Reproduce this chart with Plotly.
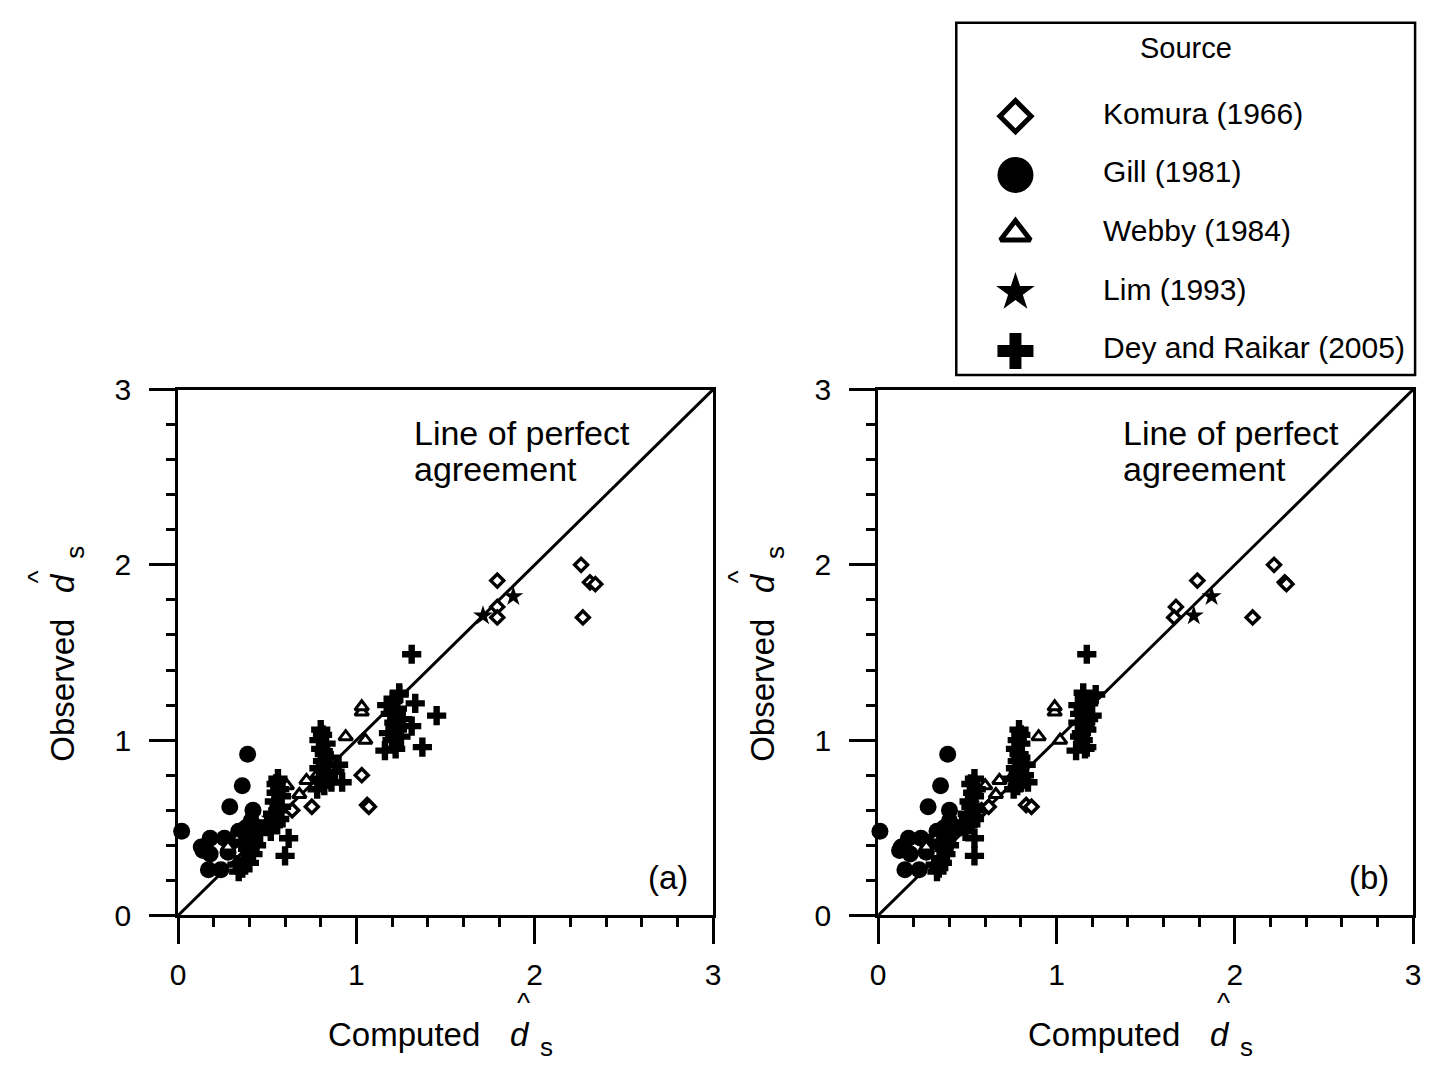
import plotly.graph_objects as go

# ---------------- data (observed, computed for panel a, computed for panel b) ----------------
komura_observed   = [2.00, 1.90, 1.89, 1.70, 1.91, 1.76, 1.70, 0.80, 0.63, 0.62, 0.60, 0.62]
komura_computed_a = [2.26, 2.31, 2.34, 2.27, 1.79, 1.79, 1.79, 1.03, 1.06, 1.07, 0.64, 0.75]
komura_computed_b = [2.22, 2.28, 2.29, 2.10, 1.79, 1.67, 1.66, 0.78, 0.83, 0.86, 0.58, 0.62]

gill_observed   = [0.48, 0.39, 0.37, 0.44, 0.35, 0.26, 0.26, 0.44, 0.62, 0.60, 0.74, 0.92, 0.54, 0.42, 0.48, 0.50, 0.36, 0.45]
gill_computed_a = [0.02, 0.13, 0.14, 0.18, 0.18, 0.17, 0.24, 0.26, 0.29, 0.42, 0.36, 0.39, 0.41, 0.30, 0.34, 0.38, 0.28, 0.40]
gill_computed_b = [0.01, 0.13, 0.12, 0.17, 0.18, 0.15, 0.23, 0.24, 0.28, 0.40, 0.35, 0.39, 0.40, 0.30, 0.33, 0.37, 0.27, 0.38]

webby_observed   = [0.39, 0.43, 0.50, 0.62, 0.74, 0.69, 0.77, 0.80, 1.02, 1.00, 1.16, 1.19]
webby_computed_a = [0.28, 0.33, 0.45, 0.55, 0.61, 0.68, 0.72, 0.78, 0.94, 1.05, 1.03, 1.03]
webby_computed_b = [0.27, 0.32, 0.44, 0.54, 0.60, 0.66, 0.68, 0.76, 0.90, 1.02, 0.99, 0.99]

lim_observed   = [1.82, 1.71, 0.45, 0.55, 0.80]
lim_computed_a = [1.88, 1.71, 0.42, 0.52, 0.82]
lim_computed_b = [1.87, 1.77, 0.40, 0.50, 0.80]

dey_observed = [0.25, 0.27, 0.29, 0.30, 0.32, 0.34, 0.35, 0.38, 0.40, 0.42, 0.44, 0.45, 0.47, 0.50,
                0.52, 0.55, 0.58, 0.60, 0.62, 0.65, 0.68, 0.70, 0.72, 0.75, 0.78, 0.53, 0.48,
                0.72, 0.74, 0.76, 0.78, 0.80, 0.82, 0.84, 0.86, 0.88, 0.90, 0.92, 0.95, 0.98, 1.00,
                1.03, 1.06, 0.76, 0.86,
                0.94, 0.95, 0.96, 1.00, 1.02, 1.04, 1.06, 1.08, 1.10, 1.12, 1.14, 1.15, 1.18, 1.20,
                1.21, 1.23, 1.26, 1.27, 1.49]
dey_computed_a = [0.34, 0.36, 0.33, 0.40, 0.37, 0.60, 0.42, 0.39, 0.44, 0.36, 0.62, 0.41, 0.46, 0.43,
                  0.55, 0.57, 0.53, 0.56, 0.58, 0.54, 0.58, 0.55, 0.57, 0.55, 0.56, 0.50, 0.52,
                  0.78, 0.82, 0.86, 0.80, 0.84, 0.88, 0.79, 0.83, 0.81, 0.85, 0.82, 0.80, 0.83, 0.79,
                  0.81, 0.80, 0.92, 0.90,
                  1.16, 1.22, 1.37, 1.20, 1.25, 1.18, 1.23, 1.31, 1.21, 1.26, 1.45, 1.19, 1.23, 1.17,
                  1.33, 1.21, 1.24, 1.24, 1.31]
dey_computed_b = [0.33, 0.34, 0.32, 0.36, 0.35, 0.54, 0.38, 0.37, 0.40, 0.35, 0.54, 0.38, 0.42, 0.40,
                  0.52, 0.54, 0.50, 0.55, 0.52, 0.51, 0.54, 0.53, 0.55, 0.52, 0.54, 0.47, 0.49,
                  0.76, 0.78, 0.80, 0.75, 0.82, 0.79, 0.77, 0.81, 0.78, 0.80, 0.79, 0.77, 0.80, 0.78,
                  0.80, 0.79, 0.84, 0.83,
                  1.11, 1.16, 1.17, 1.15, 1.13, 1.14, 1.17, 1.16, 1.12, 1.18, 1.20, 1.13, 1.15, 1.12,
                  1.18, 1.16, 1.22, 1.15, 1.17]

series_names = ["Komura (1966)", "Gill (1981)", "Webby (1984)", "Lim (1993)", "Dey and Raikar (2005)"]
agreement_line = [0, 3]
tick_values = [0, 1, 2, 3]
panel_labels = ["(a)", "(b)"]

# ---------------- styling ----------------
FONT = "Liberation Sans, Arial, sans-serif"
W, H = 1431, 1076


def px(x):
    """window pixel (x) -> paper fraction"""
    return x / W


def py(y):
    """window pixel (y, from top) -> paper fraction"""
    return 1 - y / H


styles = {
    "Komura (1966)": dict(symbol="diamond", size=10, color="white", line=dict(color="black", width=3.4)),
    "Gill (1981)": dict(symbol="circle", size=17, color="black", line=dict(width=0)),
    "Webby (1984)": dict(symbol="triangle-up", size=12, color="white", line=dict(color="black", width=3)),
    "Lim (1993)": dict(symbol="star", size=15, color="black", line=dict(width=0)),
    "Dey and Raikar (2005)": dict(symbol="cross", size=16, color="black", line=dict(width=0)),
}
legend_styles = {
    "Komura (1966)": dict(symbol="diamond", size=24, color="white", line=dict(color="black", width=5)),
    "Gill (1981)": dict(symbol="circle", size=36, color="black", line=dict(width=0)),
    "Webby (1984)": dict(symbol="triangle-up", size=26, color="white", line=dict(color="black", width=5)),
    "Lim (1993)": dict(symbol="star", size=29, color="black", line=dict(width=0)),
    "Dey and Raikar (2005)": dict(symbol="cross", size=30, color="black", line=dict(width=0)),
}

data_a = {
    "Komura (1966)": (komura_computed_a, komura_observed),
    "Gill (1981)": (gill_computed_a, gill_observed),
    "Webby (1984)": (webby_computed_a, webby_observed),
    "Lim (1993)": (lim_computed_a, lim_observed),
    "Dey and Raikar (2005)": (dey_computed_a, dey_observed),
}
data_b = {
    "Komura (1966)": (komura_computed_b, komura_observed),
    "Gill (1981)": (gill_computed_b, gill_observed),
    "Webby (1984)": (webby_computed_b, webby_observed),
    "Lim (1993)": (lim_computed_b, lim_observed),
    "Dey and Raikar (2005)": (dey_computed_b, dey_observed),
}

fig = go.Figure()

for data, xa, ya in [(data_a, "x", "y"), (data_b, "x2", "y2")]:
    fig.add_trace(go.Scatter(x=agreement_line, y=agreement_line, mode="lines",
                             line=dict(color="black", width=3), xaxis=xa, yaxis=ya,
                             showlegend=False, hoverinfo="skip"))
    for name in series_names:
        xs, ys = data[name]
        fig.add_trace(go.Scatter(x=xs, y=ys, mode="markers", name=name, marker=styles[name],
                                 xaxis=xa, yaxis=ya, showlegend=False, cliponaxis=False))

# legend drawn as its own small subplot
for name in series_names:
    fig.add_trace(go.Scatter(x=[0.129], y=[name], mode="markers", marker=legend_styles[name],
                             xaxis="x3", yaxis="y3", showlegend=False, cliponaxis=False))
fig.add_trace(go.Scatter(x=[0.32] * len(series_names), y=series_names, text=series_names,
                         mode="text", textposition="middle right",
                         textfont=dict(family=FONT, size=30, color="black"),
                         xaxis="x3", yaxis="y3", showlegend=False, cliponaxis=False))

axis_common = dict(
    range=[0, 3], tickvals=tick_values, showgrid=False, zeroline=False,
    showline=True, linecolor="black", linewidth=3, mirror=True,
    ticks="outside", ticklen=26, tickwidth=2.5, tickcolor="black",
    tickfont=dict(family=FONT, size=30, color="black"),
    minor=dict(dtick=0.2, ticks="outside", ticklen=9, tickwidth=2.5, tickcolor="black", showgrid=False),
    fixedrange=True,
)

dom_a = [px(172), px(713)]
dom_b = [px(880), px(1421)]
dom_y = [py(927), py(385)]

fig.update_layout(
    width=W, height=H,
    margin=dict(l=0, r=0, t=0, b=0),
    paper_bgcolor="white", plot_bgcolor="white",
    showlegend=False,
    xaxis=dict(domain=dom_a, anchor="y", ticklabelstandoff=5, **axis_common),
    yaxis=dict(domain=dom_y, anchor="x", ticklabelstandoff=12, **axis_common),
    xaxis2=dict(domain=dom_b, anchor="y2", ticklabelstandoff=5, **axis_common),
    yaxis2=dict(domain=dom_y, anchor="x2", ticklabelstandoff=12, **axis_common),
    xaxis3=dict(domain=[px(959), px(1423)], anchor="y3", range=[0, 1], visible=False, fixedrange=True),
    yaxis3=dict(domain=[py(375.5), py(73)], anchor="x3", type="category",
                categoryorder="array", categoryarray=series_names[::-1],
                range=[-0.5, 4.5], visible=False, fixedrange=True),
)

# legend frame and title
fig.add_shape(type="rect", xref="paper", yref="paper",
              x0=px(959), x1=px(1423), y0=py(370), y1=py(7),
              line=dict(color="black", width=2.5), fillcolor="rgba(0,0,0,0)")


def note(text, x, y, size, angle=0, xref="paper", yref="paper", xanchor="center", yanchor="middle"):
    return dict(text=text, x=x, y=y, xref=xref, yref=yref, xanchor=xanchor, yanchor=yanchor,
                textangle=angle, showarrow=False, font=dict(family=FONT, size=size, color="black"))


annotations = [note("Source", px(1191), py(33), 29)]

for i, (xa, ya) in enumerate([("x", "y"), ("x2", "y2")]):
    x0 = 1.31 if i == 0 else 1.36
    annotations.append(note("Line of perfect", x0, (927 - 430) / 180.7, 34, xref=xa, yref=ya, xanchor="left"))
    annotations.append(note("agreement", x0, (927 - 467) / 180.7, 34, xref=xa, yref=ya, xanchor="left"))
    annotations.append(note(panel_labels[i], 2.75, 0.215, 33, xref=xa, yref=ya))

for off in [0, 708]:
    # x title
    annotations.append(note("Computed", px(400 + off), py(1050), 33))
    annotations.append(note("<i>d</i>", px(518 + off), py(1050), 33))
    annotations.append(note("^", px(521 + off), py(1035), 28, yanchor="bottom"))
    annotations.append(note("s", px(545 + off), py(1063), 26))
    # y title
    annotations.append(note("Observed", px(55 + off), py(695), 33, angle=-90))
    annotations.append(note("<i>d</i>", px(55 + off), py(584), 33, angle=-90))
    annotations.append(note("^", px(30 + off), py(578), 28, angle=-90))
    annotations.append(note("s", px(67 + off), py(553), 26, angle=-90))

fig.update_layout(annotations=annotations)

fig.write_html("out.html")
